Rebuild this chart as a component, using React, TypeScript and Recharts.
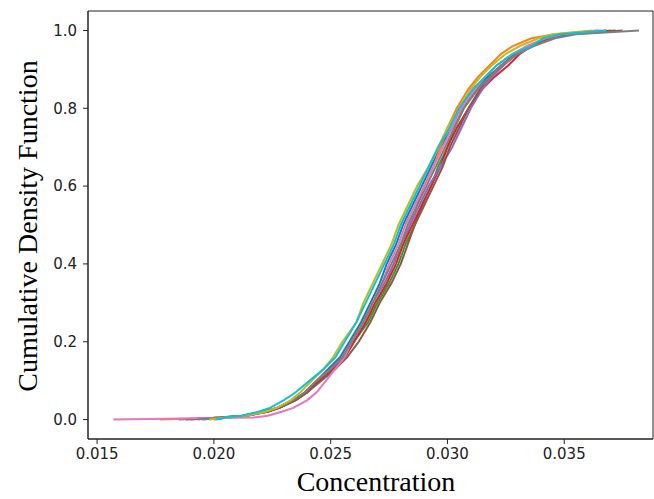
import React from "react";
import { LineChart, Line, XAxis, YAxis, ReferenceArea, Label } from "recharts";

// CDF levels shared by all runs; each run gives the concentration reached at that level
const cdfLevels = [
  0, 0.005, 0.01, 0.02, 0.03, 0.05, 0.07, 0.1, 0.13, 0.16, 0.2, 0.25, 0.3, 0.35, 0.4, 0.45,
  0.5, 0.55, 0.6, 0.65, 0.7, 0.75, 0.8, 0.85, 0.88, 0.91, 0.94, 0.96, 0.98, 0.99, 1.0,
];

const run0 = [0.019, 0.0203, 0.0212, 0.0221, 0.0227, 0.0234, 0.0239, 0.0244, 0.0249, 0.0254, 0.0258, 0.0263, 0.0267, 0.0271, 0.0274, 0.0278, 0.0281, 0.0285, 0.0289, 0.0293, 0.0297, 0.0302, 0.0306, 0.0312, 0.0317, 0.0323, 0.033, 0.0336, 0.0344, 0.0352, 0.0368];
const run1 = [0.0177, 0.0205, 0.0214, 0.0223, 0.0228, 0.0235, 0.024, 0.0245, 0.0251, 0.0256, 0.026, 0.0265, 0.027, 0.0274, 0.0277, 0.0281, 0.0284, 0.0287, 0.029, 0.0294, 0.0297, 0.03, 0.0304, 0.0309, 0.0313, 0.0318, 0.0323, 0.0328, 0.0336, 0.0346, 0.0365];
const run2 = [0.0195, 0.0205, 0.0214, 0.0223, 0.0228, 0.0235, 0.024, 0.0245, 0.0251, 0.0256, 0.026, 0.0266, 0.027, 0.0275, 0.0279, 0.0282, 0.0286, 0.0289, 0.0293, 0.0296, 0.03, 0.0303, 0.0307, 0.0313, 0.0318, 0.0323, 0.033, 0.0336, 0.0344, 0.0351, 0.037];
const run3 = [0.02, 0.0206, 0.0214, 0.0223, 0.0228, 0.0235, 0.024, 0.0245, 0.0251, 0.0256, 0.026, 0.0265, 0.0269, 0.0274, 0.0278, 0.0281, 0.0285, 0.0289, 0.0293, 0.0297, 0.03, 0.0304, 0.0309, 0.0315, 0.032, 0.0326, 0.0331, 0.0336, 0.0344, 0.0352, 0.0372];
const run4 = [0.0185, 0.0204, 0.0213, 0.0222, 0.0227, 0.0234, 0.0239, 0.0244, 0.025, 0.0255, 0.0259, 0.0264, 0.0268, 0.0273, 0.0277, 0.028, 0.0284, 0.0288, 0.0292, 0.0297, 0.0302, 0.0306, 0.031, 0.0315, 0.0319, 0.0324, 0.033, 0.0336, 0.0343, 0.0351, 0.0366];
const run5 = [0.0188, 0.0203, 0.0213, 0.0222, 0.0228, 0.0235, 0.024, 0.0246, 0.0252, 0.0257, 0.0262, 0.0267, 0.0271, 0.0276, 0.028, 0.0283, 0.0286, 0.029, 0.0294, 0.0298, 0.0301, 0.0305, 0.0309, 0.0314, 0.0318, 0.0323, 0.0329, 0.0335, 0.0343, 0.0352, 0.0375];
const run6 = [0.0157, 0.0217, 0.0223, 0.0229, 0.0234, 0.024, 0.0244, 0.0248, 0.0252, 0.0256, 0.0259, 0.0264, 0.0268, 0.0272, 0.0275, 0.0279, 0.0282, 0.0286, 0.029, 0.0294, 0.0298, 0.0302, 0.0306, 0.0312, 0.0316, 0.0321, 0.0328, 0.0334, 0.0342, 0.0349, 0.0364];
const run7 = [0.0193, 0.0202, 0.0212, 0.0221, 0.0227, 0.0234, 0.0239, 0.0244, 0.025, 0.0255, 0.0259, 0.0264, 0.0268, 0.0272, 0.0276, 0.028, 0.0283, 0.0287, 0.0291, 0.0295, 0.0299, 0.0303, 0.0307, 0.0313, 0.0318, 0.0323, 0.033, 0.0337, 0.0346, 0.0355, 0.0382];
const run8 = [0.0198, 0.0206, 0.0214, 0.0222, 0.0227, 0.0233, 0.0237, 0.0242, 0.0247, 0.0251, 0.0255, 0.0261, 0.0264, 0.0268, 0.0272, 0.0276, 0.0279, 0.0283, 0.0287, 0.0292, 0.0296, 0.03, 0.0305, 0.031, 0.0314, 0.0319, 0.0325, 0.0331, 0.0339, 0.0345, 0.0362];
const run9 = [0.0201, 0.0205, 0.0212, 0.0219, 0.0224, 0.023, 0.0235, 0.0241, 0.0247, 0.0252, 0.0256, 0.0261, 0.0265, 0.0269, 0.0273, 0.0277, 0.028, 0.0284, 0.0288, 0.0292, 0.0296, 0.0301, 0.0305, 0.0311, 0.0316, 0.0321, 0.0328, 0.0336, 0.0341, 0.0348, 0.0368];

const runs = [run0, run1, run2, run3, run4, run5, run6, run7, run8, run9];
const colors = ["#1f77b4", "#ff7f0e", "#2ca02c", "#d62728", "#9467bd", "#8c564b", "#e377c2", "#7f7f7f", "#bcbd22", "#17becf"];

const xTicks = [0.015, 0.02, 0.025, 0.03, 0.035];
const yTicks = [0, 0.2, 0.4, 0.6, 0.8, 1.0];
const xDomain = [0.01461, 0.0388];
const yDomain = [-0.05, 1.05];

const tickFont = { fontFamily: "DejaVu Sans", fontSize: 15, fill: "#222" };
const labelFont = { fontFamily: "Liberation Serif", fontSize: 28, fill: "#000" };

export default function App() {
  const series = runs.map((xs) => xs.map((x, i) => ({ x, y: cdfLevels[i] })));
  return (
    <div style={{ position: "absolute", left: 0, top: 0, width: 654, height: 499, background: "#fff" }}>
      <LineChart width={654} height={499} margin={{ top: 11, right: 1, bottom: 0, left: 0 }}>
        <XAxis
          type="number"
          dataKey="x"
          domain={xDomain}
          ticks={xTicks}
          allowDataOverflow
          tickFormatter={(v) => v.toFixed(3)}
          tick={tickFont}
          tickSize={5}
          tickMargin={4}
          height={60}
          stroke="#222"
        >
          <Label
            content={() => (
              <text x={376} y={491} textAnchor="middle" style={labelFont}>
                Concentration
              </text>
            )}
          />
        </XAxis>
        <YAxis
          type="number"
          dataKey="y"
          domain={yDomain}
          ticks={yTicks}
          allowDataOverflow
          tickFormatter={(v) => v.toFixed(1)}
          tick={tickFont}
          tickSize={5}
          tickMargin={6}
          width={88}
          stroke="#222"
        >
          <Label
            content={() => (
              <text x={37} y={226} textAnchor="middle" transform="rotate(-90 37 226)" style={labelFont}>
                Cumulative Density Function
              </text>
            )}
          />
        </YAxis>
        <ReferenceArea x1={xDomain[0]} x2={xDomain[1]} y1={yDomain[0]} y2={yDomain[1]} stroke="#222" strokeWidth={1} fill="none" fillOpacity={0} />
        {series.map((d, i) => (
          <Line
            key={i}
            data={d}
            dataKey="y"
            type="linear"
            stroke={colors[i]}
            strokeWidth={2}
            dot={false}
            isAnimationActive={false}
          />
        ))}
      </LineChart>
    </div>
  );
}
